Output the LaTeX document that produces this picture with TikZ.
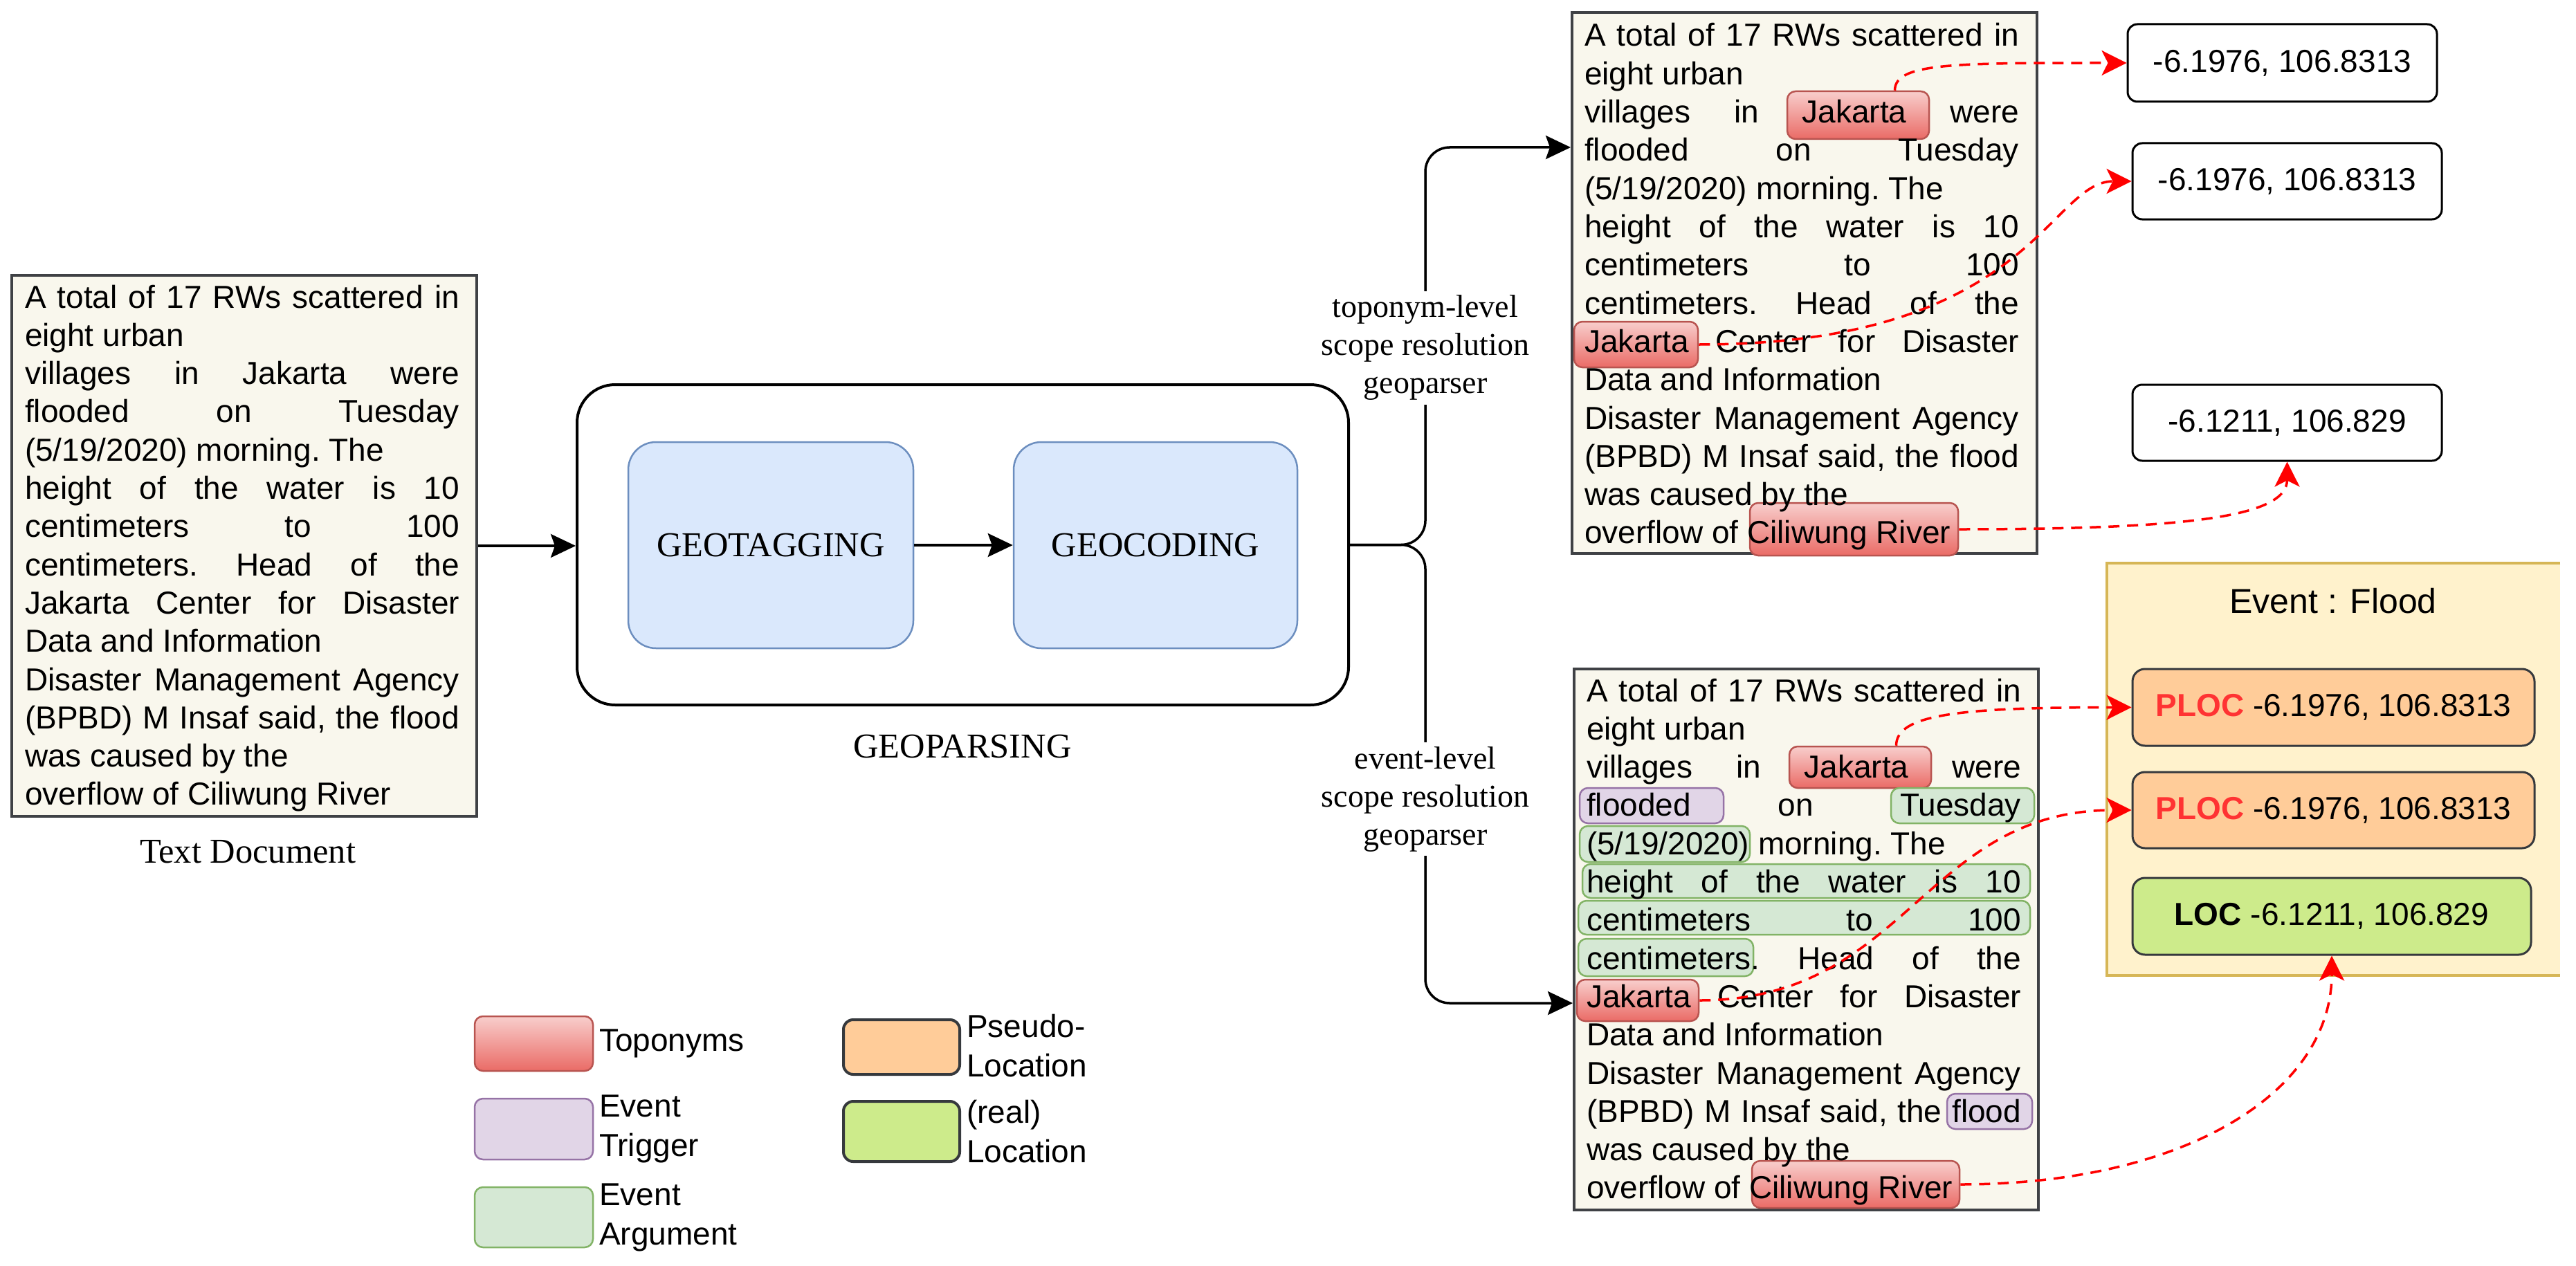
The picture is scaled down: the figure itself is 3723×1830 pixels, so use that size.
\documentclass[tikz,border=0pt]{standalone}
\usepackage{fontspec}
\setmainfont{Liberation Serif}
\newfontfamily\sansf{Liberation Sans}
\usetikzlibrary{arrows.meta,calc,fit}
\pgfdeclarelayer{bg}
\pgfsetlayers{bg,main}
\definecolor{docfill}{HTML}{F9F7ED}
\definecolor{docdraw}{HTML}{3F4145}
\definecolor{redtop}{HTML}{F8CECC}
\definecolor{redbot}{HTML}{EA6B66}
\definecolor{redline}{HTML}{B85450}
\definecolor{purf}{HTML}{E1D5E7}
\definecolor{purd}{HTML}{9673A6}
\definecolor{grnf}{HTML}{D5E8D4}
\definecolor{grnd}{HTML}{82B366}
\definecolor{orgf}{HTML}{FFCC99}
\definecolor{limef}{HTML}{CDEB8B}
\definecolor{darkd}{HTML}{36393D}
\definecolor{bluef}{HTML}{DAE8FC}
\definecolor{blued}{HTML}{6C8EBF}
\definecolor{evf}{HTML}{FFF2CC}
\definecolor{evd}{HTML}{D6B656}
\definecolor{arrred}{HTML}{FF0000}
\definecolor{plocred}{HTML}{FF3333}

\newcommand{\sansfont}{\sansf\fontsize{46}{55}\selectfont}
\newcommand{\legfont}{\sansf\fontsize{46}{57}\selectfont}
\newcommand{\jl}[1]{\makebox[628pt][s]{#1}}

\tikzset{
 dl/.style={anchor=base west, inner sep=0pt, outer sep=0pt, font=\sansfont\frenchspacing},
 docbox/.style={draw=docdraw, fill=docfill, line width=4pt, inner sep=0pt},
 hlr/.style={draw=redline, top color=redtop, bottom color=redbot, line width=2.5pt, rounded corners=12pt, inner sep=0pt},
 hlp/.style={draw=purd, fill=purf, line width=2.5pt, rounded corners=12pt, inner sep=0pt},
 hlg/.style={draw=grnd, fill=grnf, line width=2.5pt, rounded corners=12pt, inner sep=0pt},
 geobox/.style={draw=black, fill=white, line width=4pt, rounded corners=55pt, inner sep=0pt},
 tagbox/.style={draw=blued, fill=bluef, line width=2.5pt, rounded corners=40pt, inner sep=0pt},
 caplab/.style={inner sep=0pt, font=\fontsize{50.5}{60}\selectfont},
 scopel/.style={fill=white, inner xsep=4pt, inner ysep=6pt, align=center, font=\fontsize{46}{55}\selectfont},
 blk/.style={draw=black, line width=3.5pt, -{Stealth[length=36pt,width=34pt,inset=6pt]}},
 redarr/.style={draw=arrred, line width=3.5pt, dash pattern=on 16pt off 11pt, -{Stealth[length=36pt,width=36pt,inset=9pt]}},
 coordbox/.style={draw=black, fill=white, line width=3pt, rounded corners=14pt, inner sep=0pt},
 plocbox/.style={draw=darkd, fill=orgf, line width=3pt, rounded corners=18pt, inner sep=0pt},
 locbox/.style={draw=darkd, fill=limef, line width=3pt, rounded corners=18pt, inner sep=0pt},
 boxtext/.style={inner sep=0pt, font=\sansfont},
 legbox/.style={draw=darkd, line width=4pt, rounded corners=14pt, inner sep=0pt},
 legtext/.style={anchor=west, align=left, inner sep=0pt, font=\legfont},
}

\newcommand{\docbody}[3]{%
 \node[dl] (#1l1) at (#2,#3) {\jl{A total of 17 RWs scattered in}};
 \node[dl] (#1l2) at (#2,#3+55.3) {eight urban};
 \node[dl] (#1l3) at (#2,#3+110.6) {\jl{villages in Jakarta were}};
 \node[dl] (#1l4) at (#2,#3+165.9) {\jl{flooded on Tuesday}};
 \node[dl] (#1l5) at (#2,#3+221.2) {(5/19/2020) morning. The};
 \node[dl] (#1l6) at (#2,#3+276.5) {\jl{height of the water is 10}};
 \node[dl] (#1l7) at (#2,#3+331.8) {\jl{centimeters to 100}};
 \node[dl] (#1l8) at (#2,#3+387.1) {\jl{centimeters. Head of the}};
 \node[dl] (#1l9) at (#2,#3+442.4) {\jl{Jakarta Center for Disaster}};
 \node[dl] (#1l10) at (#2,#3+497.7) {Data and Information};
 \node[dl] (#1l11) at (#2,#3+553) {\jl{Disaster Management Agency}};
 \node[dl] (#1l12) at (#2,#3+608.3) {\jl{(BPBD) M Insaf said, the flood}};
 \node[dl] (#1l13) at (#2,#3+663.6) {was caused by the};
 \node[dl] (#1l14) at (#2,#3+718.9) {overflow of Ciliwung River};
}

\begin{document}
\begin{tikzpicture}[x=1pt, y=-1pt]
\useasboundingbox (0,0) rectangle (3723,1830);

% ---------- document boxes ----------
\node[docbox, fit={(17,398) (689,1180)}] (doc) {};
\node[docbox, fit={(2272,18) (2944,800)}] (top) {};
\node[docbox, fit={(2275,967) (2946,1749)}] (bot) {};

% ---------- highlights, top box ----------
\node[hlr, fit={(2583,132) (2788,201)}] (tj1) {};
\node[hlr, fit={(2275,465) (2454,531)}] (tj2) {};
\node[hlr, fit={(2529,727) (2830,803)}] (tc) {};

% ---------- highlights, bottom box ----------
\node[hlr, fit={(2586,1079) (2791,1139)}] (bj1) {};
\node[hlp, fit={(2283,1139) (2491,1190)}] (bfl) {};
\node[hlg, fit={(2733,1139) (2940,1190)}] (btu) {};
\node[hlg, fit={(2283,1194) (2529,1246)}] (bdt) {};
\node[hlg, fit={(2287,1249) (2934,1298)}] (bht) {};
\node[hlg, fit={(2281,1302) (2934,1351)}] (bcm) {};
\node[hlg, fit={(2281,1357) (2534,1411)}] (bc2) {};
\node[hlr, fit={(2279,1416) (2455,1476)}] (bj2) {};
\node[hlp, fit={(2814,1581) (2937,1632)}] (bfd) {};
\node[hlr, fit={(2532,1678) (2832,1746)}] (bcr) {};

% ---------- texts ----------
\docbody{d}{36}{445}
\docbody{t}{2290}{67}
\docbody{b}{2293}{1014}

\node[caplab] (tdl) at (358,1231) {Text Document};

% ---------- geoparsing ----------
\node[geobox, fit={(834,556) (1949,1019)}] (geop) {};
\node[tagbox, fit={(908,639) (1320,937)}] (gt) {};
\node[tagbox, fit={(1465,639) (1875,937)}] (gc) {};
\node[caplab] (gtt) at (gt.center) {GEOTAGGING};
\node[caplab] (gct) at (gc.center) {GEOCODING};
\node[caplab] (gpl) at (1391,1079) {GEOPARSING};

\draw[blk] (doc.east) -- (doc.east -| geop.west);
\draw[blk] (gt.east) -- (gc.west);

\begin{pgfonlayer}{bg}
\coordinate (brU) at (2060,213);
\coordinate (brD) at (2060,1450);
\draw[blk, rounded corners=35pt] (geop.east) -| (brU) -- (top.west |- brU);
\draw[blk, rounded corners=35pt] (geop.east) -| (brD) -- (bot.west |- brD);
\node[scopel] (toplab) at (2060,503) {toponym-level\\scope resolution\\geoparser};
\node[scopel] (evlab) at (2060,1155) {event-level\\scope resolution\\geoparser};
\end{pgfonlayer}

% ---------- coordinate boxes ----------
\node[coordbox, fit={(3075,35) (3522,147)}] (c1) {};
\node[coordbox, fit={(3082,207) (3529,317)}] (c2) {};
\node[coordbox, fit={(3082,556) (3529,666)}] (c3) {};
\node[boxtext] (c1t) at (c1.center) {-6.1976, 106.8313};
\node[boxtext] (c2t) at (c2.center) {-6.1976, 106.8313};
\node[boxtext] (c3t) at (c3.center) {-6.1211, 106.829};

% ---------- event frame ----------
\node[fill=evf, inner sep=0pt, fit={(3045,814) (3700,1410)}] (ev) {};
\draw[draw=evd, line width=4pt] (ev.north east) -- (ev.north west) -- (ev.south west) -- (ev.south east);
\node[inner sep=0pt, font=\sansf\fontsize{50}{60}\selectfont] (evt) at (3372,869) {Event : Flood};
\node[plocbox, fit={(3082,967) (3663,1078)}] (p1) {};
\node[plocbox, fit={(3082,1116) (3663,1226)}] (p2) {};
\node[locbox, fit={(3082,1269) (3658,1380)}] (loc) {};
\node[boxtext] (p1t) at (p1.center) {\textbf{\color{plocred}PLOC} -6.1976, 106.8313};
\node[boxtext] (p2t) at (p2.center) {\textbf{\color{plocred}PLOC} -6.1976, 106.8313};
\node[boxtext] (loct) at (loc.center) {\textbf{LOC} -6.1211, 106.829};

% ---------- red connectors ----------
\draw[redarr] ([xshift=53pt]tj1.north) .. controls +(0,-40) and +(-250,0) .. (c1.west);
\draw[redarr] (tj2.east) .. controls +(480,0) and +(-120,0) .. (c2.west);
\draw[redarr] (tc.east) .. controls +(330,0) and +(0,80) .. (c3.south);
\draw[redarr] ([xshift=52pt]bj1.north) .. controls +(0,-45) and +(-250,0) .. (p1.west);
\draw[redarr] (bj2.east) .. controls +(300,0) and +(-300,0) .. (p2.west);
\draw[redarr] (bcr.east) .. controls +(320,0) and +(0,200) .. (loc.south);

% ---------- legend ----------
\node[hlr, fit={(686,1469) (857,1548)}] (lg1) {};
\node[hlp, fit={(686,1588) (857,1676)}] (lg2) {};
\node[hlg, fit={(686,1716) (857,1803)}] (lg3) {};
\node[legbox, fill=orgf, fit={(1219,1474) (1387,1553)}] (lg4) {};
\node[legbox, fill=limef, fit={(1219,1592) (1387,1679)}] (lg5) {};
\node[legtext] (lg1t) at (866,1508) {Toponyms};
\node[legtext] (lg2t) at (866,1632) {Event\\Trigger};
\node[legtext] (lg3t) at (866,1760) {Event\\Argument};
\node[legtext] (lg4t) at (1397,1512) {Pseudo-\\Location};
\node[legtext] (lg5t) at (1397,1636) {(real)\\Location};
\end{tikzpicture}
\end{document}
